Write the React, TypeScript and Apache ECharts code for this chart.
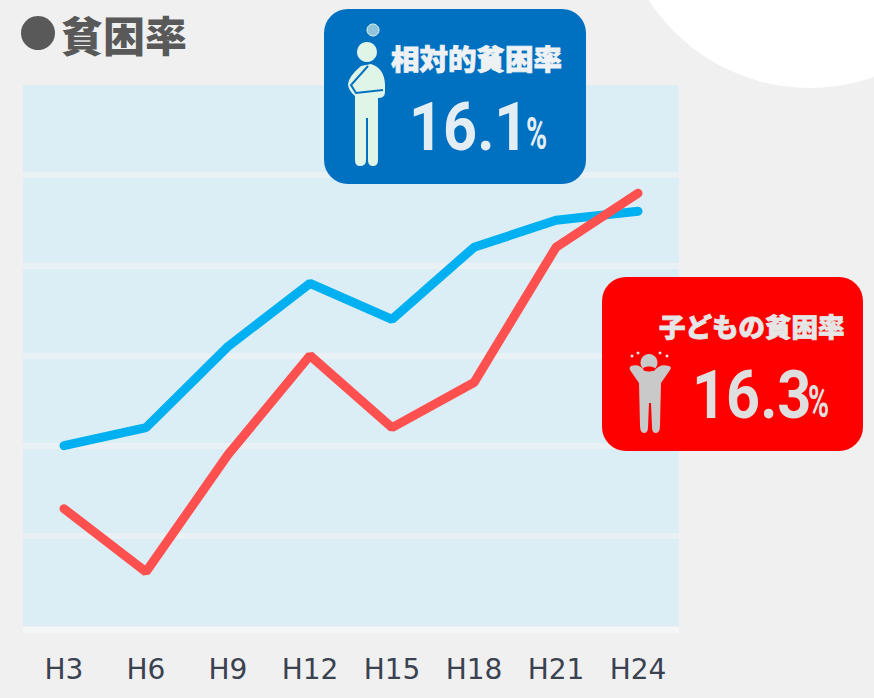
import React, { useEffect, useRef } from "react";
import * as echarts from "echarts";

const categories = ["H3", "H6", "H9", "H12", "H15", "H18", "H21", "H24"];
const relativePoverty = [13.5, 13.7, 14.6, 15.3, 14.9, 15.7, 16.0, 16.1];
const childPoverty = [12.8, 12.1, 13.4, 14.5, 13.7, 14.2, 15.7, 16.3];
const bandLines = [12.5, 13.5, 14.5, 15.5, 16.5];

const thinkerD =
  "M20 2a10 10 0 1 1-.01 0zM14 26 L24 24 Q37 28 38 44 L38 52 Q38 58 31 58 L31 120 Q31 126 26 126 Q21 126 21 120 L21 78 L19 78 L19 120 Q19 126 13 126 Q8 126 8 120 L8 56 Q1 50 1 44 Q2 36 14 26z";
const strainD =
  "M20 1a8.5 8.5 0 1 1-.01 0zM2 13 Q10 10 16 18 L25 18 Q31 10 40 13 Q43 14 41 17 L32 30 L31 72 Q31 80 27 80 Q23 80 23 74 L22 50 L20 50 L19 74 Q19 80 15 80 Q11 80 11 72 L10 30 L1 17 Q0 14 2 13z";
echarts.graphic.registerShape("thinkerFigure", echarts.graphic.extendPath(thinkerD, {}) as any);
echarts.graphic.registerShape("strainFigure", echarts.graphic.extendPath(strainD, {}) as any);

export default function App() {
  const ref = useRef<HTMLDivElement>(null);
  useEffect(() => {
    document.body.style.margin = "0";
    const chart = echarts.init(ref.current!, null, { renderer: "svg" });
    const head = "'Noto Sans CJK JP'";
    const blueLabel = { fontFamily: head, fontWeight: 900 as const, fill: "#eef2f4", stroke: "#eef2f4", lineWidth: 0.8 };
    const redLabel = { fontFamily: head, fontWeight: 900 as const, fill: "#e6e6e6", stroke: "#e6e6e6", lineWidth: 0.8 };
    const bigNum = { fontFamily: "Roboto", fontWeight: 700 as const, fontSize: 66, textVerticalAlign: "middle" };
    const pct = { fontFamily: "Roboto", fontWeight: 700 as const, fontSize: 44, textVerticalAlign: "middle" };
    chart.setOption({
      animation: false,
      backgroundColor: "#f0f0f0",
      grid: { left: 23, right: 195, top: 85, bottom: 72, show: true, backgroundColor: "#dbedf5", borderWidth: 0 },
      xAxis: {
        type: "category",
        data: categories,
        axisLine: { show: false },
        axisTick: { show: false },
        axisLabel: { fontFamily: "'DejaVu Sans'", fontSize: 28, color: "#3a4250", margin: 29 },
      },
      yAxis: {
        type: "value",
        min: 11.5,
        max: 17.5,
        interval: 0.5,
        axisLine: { show: false },
        axisTick: { show: false },
        axisLabel: { show: false },
        splitLine: { show: false },
      },
      series: [
        {
          name: "目盛",
          type: "line",
          data: [],
          z: 1,
          silent: true,
          markLine: {
            z: 1,
            silent: true,
            symbol: "none",
            label: { show: false },
            lineStyle: { color: "#eaf1f5", width: 6, type: "solid" },
            data: bandLines.map((v) => ({ yAxis: v })),
          },
        },
        { name: "相対的貧困率", type: "line", data: relativePoverty, symbol: "none", z: 3, lineStyle: { color: "#00b0f0", width: 9, cap: "round" } },
        { name: "子どもの貧困率", type: "line", data: childPoverty, symbol: "none", z: 4, lineStyle: { color: "#ff5050", width: 9, cap: "round" } },
      ],
      graphic: [
        { type: "circle", silent: true, z: 10, shape: { cx: 810, cy: -104, r: 192 }, style: { fill: "#ffffff" } },
        { type: "rect", silent: true, z: 9, shape: { x: 23, y: 627, width: 656, height: 6 }, style: { fill: "#f4f6f7" } },
        { type: "circle", z: 10, shape: { cx: 38, cy: 33, r: 17 }, style: { fill: "#595959" } },
        { type: "text", z: 10, x: 61, y: 33, style: { text: "貧困率", fontFamily: head, fontWeight: 900, fontSize: 42, fill: "#595959", textVerticalAlign: "middle" } },

        { type: "rect", z: 10, shape: { x: 324, y: 9, width: 262, height: 175, r: 24 }, style: { fill: "#0070c0" } },
        { type: "thinkerFigure", z: 11, x: 347, y: 40, style: { fill: "#dff5e8" } },
        { type: "polyline", z: 12, shape: { points: [[368, 66], [351, 85], [356, 93], [383, 90]] }, style: { fill: "none", stroke: "#0070c0", lineWidth: 2 } },
        { type: "circle", z: 11, shape: { cx: 373, cy: 30, r: 6 }, style: { fill: "#8fc4dc", stroke: "#dff5e8", lineWidth: 1 } },
        { type: "text", z: 11, x: 391, y: 57, style: { ...blueLabel, text: "相対的貧困率", fontSize: 28.5, textVerticalAlign: "middle" } },
        { type: "text", z: 11, x: 409, y: 127, scaleX: 0.9, style: { ...bigNum, text: "16.1", fill: "#e3eef4" } },
        { type: "text", z: 11, x: 526, y: 134, scaleX: 0.65, style: { ...pct, text: "%", fill: "#e3eef4" } },

        { type: "rect", z: 10, shape: { x: 602, y: 277, width: 261, height: 174, r: 24 }, style: { fill: "#ff0000" } },
        { type: "strainFigure", z: 11, x: 629, y: 353, style: { fill: "#c9c9c9" } },
        { type: "ellipse", z: 12, shape: { cx: 649, cy: 369, rx: 6, ry: 2.5 }, style: { fill: "#ff0000" } },
        { type: "circle", z: 11, shape: { cx: 632, cy: 356, r: 1.5 }, style: { fill: "#e6e6e6" } },
        { type: "circle", z: 11, shape: { cx: 638, cy: 353, r: 1.5 }, style: { fill: "#e6e6e6" } },
        { type: "circle", z: 11, shape: { cx: 660, cy: 353, r: 1.5 }, style: { fill: "#e6e6e6" } },
        { type: "circle", z: 11, shape: { cx: 667, cy: 356, r: 1.5 }, style: { fill: "#e6e6e6" } },
        { type: "text", z: 11, x: 659, y: 325, style: { ...redLabel, text: "子どもの貧困率", fontSize: 26.5, textVerticalAlign: "middle" } },
        { type: "text", z: 11, x: 692, y: 395, scaleX: 0.9, style: { ...bigNum, text: "16.3", fill: "#dfdfdf" } },
        { type: "text", z: 11, x: 808, y: 402, scaleX: 0.65, style: { ...pct, text: "%", fill: "#dfdfdf" } },
      ],
    });
    return () => chart.dispose();
  }, []);
  return <div ref={ref} style={{ width: 874, height: 698 }} />;
}
